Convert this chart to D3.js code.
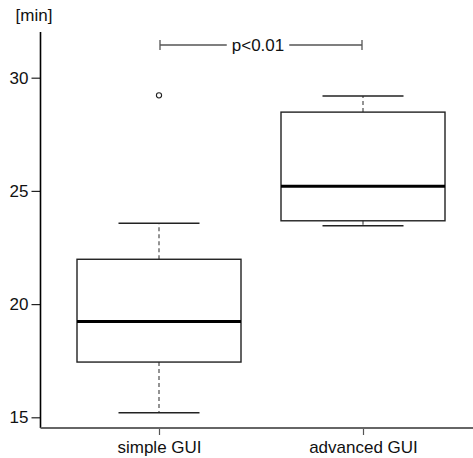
<!DOCTYPE html>
<html>
<head>
<meta charset="utf-8">
<script src="https://cdn.jsdelivr.net/npm/d3@7"></script>
<style>
  html, body { margin: 0; padding: 0; background: #fff; }
  svg { display: block; font-family: "Liberation Sans", Arial, sans-serif; }
</style>
</head>
<body>
<svg id="chart" width="473" height="458"></svg>
<script>
// Task completion time per interface (minutes)
const groups = ["simple GUI", "advanced GUI"];
const lowerWhisker = [15.2, 23.46];
const q1 = [17.44, 23.68];
const median = [19.23, 25.21];
const q3 = [21.98, 28.48];
const upperWhisker = [23.57, 29.19];
const outliers = [[29.22], []];
const yTicks = [15, 20, 25, 30];
const unitLabel = "[min]";
const pLabel = "p<0.01";

(function draw() {
  const svg = d3.select("#chart");
  const W = 473;
  const axisX = 40.5, plotTop = 32, plotBottom = 428;

  const y = d3.scaleLinear().domain([15, 30]).range([417.3, 77.7]);
  const x = d3.scalePoint().domain(groups).range([159, 363]);
  const boxW = 164, capW = 81;

  // y axis
  const ya = svg.append("g").attr("transform", `translate(${axisX},0)`)
    .call(d3.axisLeft(y).tickValues(yTicks).tickSize(9).tickPadding(3).tickSizeOuter(0));
  ya.select(".domain").remove();
  ya.selectAll(".tick line").attr("stroke", "#222").attr("stroke-width", 1.2);
  ya.selectAll(".tick text").attr("font-size", 17).attr("fill", "#111")
    .attr("font-family", "Liberation Sans, Arial, sans-serif");
  svg.append("line").attr("x1", axisX).attr("x2", axisX).attr("y1", plotTop).attr("y2", plotBottom)
    .attr("stroke", "#000").attr("stroke-width", 1.6);

  // x axis
  const xa = svg.append("g").attr("transform", `translate(0,${plotBottom})`)
    .call(d3.axisBottom(x).tickSize(7).tickPadding(6).tickSizeOuter(0));
  xa.select(".domain").remove();
  xa.selectAll(".tick line").attr("stroke", "#555").attr("stroke-width", 1.2);
  xa.selectAll(".tick text").attr("font-size", 17).attr("fill", "#111")
    .attr("font-family", "Liberation Sans, Arial, sans-serif");
  svg.append("line").attr("x1", axisX).attr("x2", W).attr("y1", plotBottom).attr("y2", plotBottom)
    .attr("stroke", "#666").attr("stroke-width", 1.8);

  // unit label
  svg.append("text").attr("x", 34).attr("y", 21).attr("text-anchor", "middle")
    .attr("font-size", 17).attr("fill", "#111").text(unitLabel);

  // boxes
  const data = groups.map((g, i) => ({
    g, lo: lowerWhisker[i], q1: q1[i], med: median[i], q3: q3[i], hi: upperWhisker[i], out: outliers[i]
  }));
  const bx = svg.append("g").selectAll("g").data(data).join("g");

  // dashed whiskers
  bx.append("line").attr("x1", d => x(d.g)).attr("x2", d => x(d.g))
    .attr("y1", d => y(d.q3)).attr("y2", d => y(d.hi))
    .attr("stroke", "#666").attr("stroke-width", 1.4).attr("stroke-dasharray", "4,3");
  bx.append("line").attr("x1", d => x(d.g)).attr("x2", d => x(d.g))
    .attr("y1", d => y(d.q1)).attr("y2", d => y(d.lo))
    .attr("stroke", "#666").attr("stroke-width", 1.4).attr("stroke-dasharray", "4,3");
  // caps
  ["hi", "lo"].forEach(k => {
    bx.append("line").attr("x1", d => x(d.g) - capW / 2).attr("x2", d => x(d.g) + capW / 2)
      .attr("y1", d => y(d[k])).attr("y2", d => y(d[k]))
      .attr("stroke", "#222").attr("stroke-width", 1.4);
  });
  // box
  bx.append("rect").attr("x", d => x(d.g) - boxW / 2).attr("width", boxW)
    .attr("y", d => y(d.q3)).attr("height", d => y(d.q1) - y(d.q3))
    .attr("fill", "none").attr("stroke", "#222").attr("stroke-width", 1.4);
  // median
  bx.append("line").attr("x1", d => x(d.g) - boxW / 2).attr("x2", d => x(d.g) + boxW / 2)
    .attr("y1", d => y(d.med)).attr("y2", d => y(d.med))
    .attr("stroke", "#000").attr("stroke-width", 3);
  // outliers
  bx.selectAll("circle").data(d => d.out.map(v => ({ g: d.g, v }))).join("circle")
    .attr("cx", d => x(d.g)).attr("cy", d => y(d.v)).attr("r", 2.6)
    .attr("fill", "none").attr("stroke", "#222").attr("stroke-width", 1.1);

  // significance bracket
  const by = 45;
  const x0 = x(groups[0]) + 1, x1 = x(groups[1]) - 1;
  const bracket = svg.append("g");
  const pt = bracket.append("text").attr("x", 258).attr("y", by + 6)
    .attr("text-anchor", "middle").attr("font-size", 17).attr("fill", "#111").text(pLabel);
  const bb = pt.node().getBBox();
  bracket.append("line").attr("x1", x0).attr("x2", bb.x - 5).attr("y1", by).attr("y2", by)
    .attr("stroke", "#555").attr("stroke-width", 1.3);
  bracket.append("line").attr("x1", bb.x + bb.width + 5).attr("x2", x1).attr("y1", by).attr("y2", by)
    .attr("stroke", "#555").attr("stroke-width", 1.3);
  [x0, x1].forEach(xx => bracket.append("line").attr("x1", xx).attr("x2", xx)
    .attr("y1", by - 5).attr("y2", by + 5).attr("stroke", "#555").attr("stroke-width", 1.3));
})();
</script>
</body>
</html>
